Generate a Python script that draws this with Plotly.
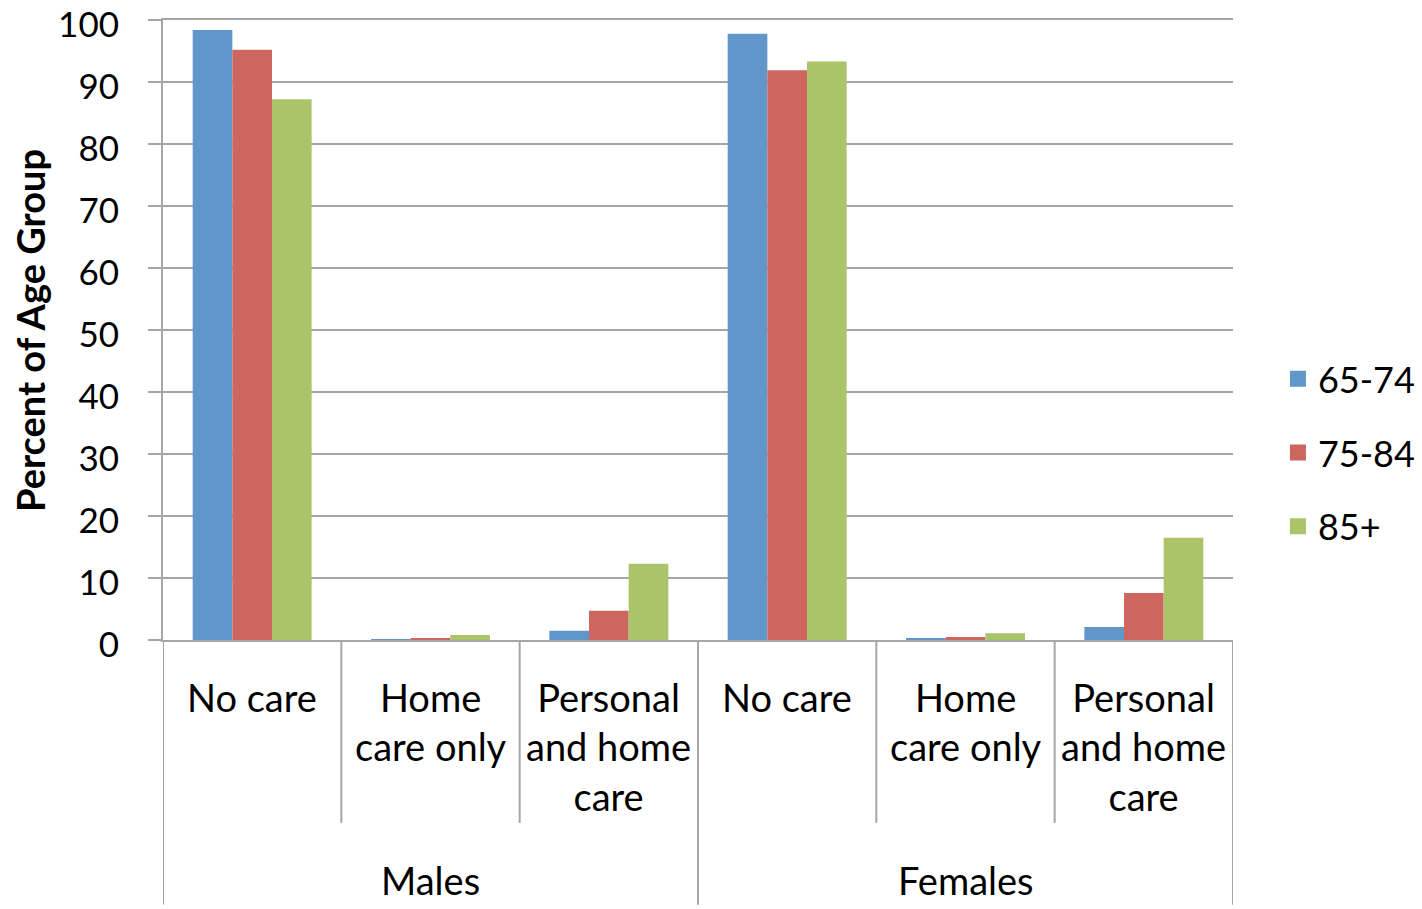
import plotly.graph_objects as go

groups = ["Males", "Males", "Males", "Females", "Females", "Females"]
care = ["No care", "Home<br>care only", "Personal<br>and home<br>care",
        "No care", "Home<br>care only", "Personal<br>and home<br>care"]
series_names = ["65-74", "75-84", "85+"]
v_65_74 = [98.4, 0.1, 1.5, 97.8, 0.2, 2.1]
v_75_84 = [95.2, 0.3, 4.7, 91.9, 0.5, 7.6]
v_85p = [87.2, 0.8, 12.3, 93.3, 1.1, 16.5]
colors = ["#6096C9", "#CD665E", "#ABC46A"]
y_ticks = [0, 10, 20, 30, 40, 50, 60, 70, 80, 90, 100]

FONT = "Lato, Open Sans, sans-serif"
GRID = "#A6A6A6"
keys = [f"{g}|{c}" for g, c in zip(groups, care)]

fig = go.Figure()
for i, (name, vals) in enumerate(zip(series_names, [v_65_74, v_75_84, v_85p])):
    fig.add_trace(go.Bar(x=keys, y=vals, name=name, showlegend=False,
                         marker=dict(color=colors[i], line=dict(width=0))))
# legend proxies (larger square symbols)
for i, name in enumerate(series_names):
    fig.add_trace(go.Scatter(x=[None], y=[None], mode="markers", name=name,
                             marker=dict(symbol="square", size=22, color=colors[i]),
                             legendgroup=name))

# category labels
for k, c in zip(keys, care):
    fig.add_annotation(x=k, xref="x", y=-0.052, yref="paper", text=c,
                       showarrow=False, yanchor="top", xanchor="center",
                       font=dict(size=38, family=FONT, color="black"))
# group labels
n = len(keys)
for g in ["Males", "Females"]:
    idx = [i for i, gg in enumerate(groups) if gg == g]
    fig.add_annotation(x=sum(idx) / len(idx), xref="x", y=-0.387, yref="paper",
                       text=g, showarrow=False, yanchor="middle", xanchor="center",
                       font=dict(size=38, family=FONT, color="black"))
# y-axis title
fig.add_annotation(x=-0.1243, xref="paper", y=0.5, yref="paper",
                   text="<b>Percent of Age Group</b>", textangle=-90,
                   showarrow=False, xanchor="center", yanchor="middle",
                   font=dict(size=38, family=FONT, color="black"))
# divider lines below axis
for b in range(n + 1):
    outer = b == 0 or b == n or groups[b - 1] != groups[b]
    fig.add_shape(type="line", xref="x", yref="paper", x0=b - 0.5, x1=b - 0.5,
                  y0=0, y1=-0.427 if outer else -0.295,
                  line=dict(color=GRID, width=2))

fig.update_layout(
    width=1422, height=909,
    margin=dict(l=163, r=189, t=20, b=269, autoexpand=False),
    plot_bgcolor="white", paper_bgcolor="white",
    barmode="group", bargap=0.333, bargroupgap=0,
    font=dict(family=FONT, size=35, color="black"),
    legend=dict(x=1.042, y=0.302, yanchor="middle", xanchor="left",
                font=dict(size=36), tracegroupgap=24, traceorder="grouped",
                itemsizing="trace"),
    showlegend=True,
)
fig.update_yaxes(range=[0, 100], tickvals=y_ticks, showgrid=True,
                 gridcolor=GRID, gridwidth=2, showline=True,
                 linecolor=GRID, linewidth=2, ticks="outside",
                 ticklen=13, tickcolor=GRID, tickwidth=2,
                 ticklabelstandoff=22, ticklabelshift=5, zeroline=False,
                 ticklabeloverflow="allow",
                 tickfont=dict(size=35), automargin=False)
fig.update_xaxes(type="category", showline=True, linecolor=GRID, linewidth=2,
                 mirror=True, showticklabels=False, ticks="", automargin=False,
                 range=[-0.5, n - 0.5])
fig.write_html("out.html", config={"displayModeBar": False},
               post_script="document.body.style.margin='0';")
